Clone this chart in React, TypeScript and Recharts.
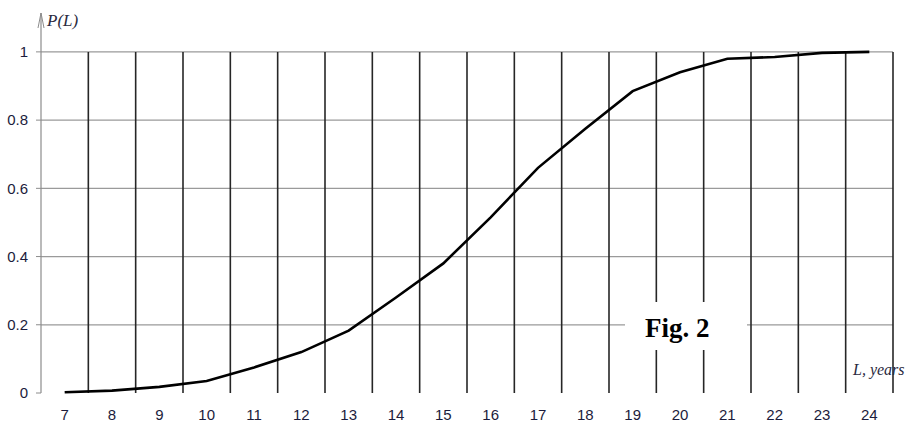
import React from 'react';
import {
  LineChart,
  Line,
  XAxis,
  YAxis,
  ReferenceLine,
} from 'recharts';

// L, years (category axis)
const years = [7, 8, 9, 10, 11, 12, 13, 14, 15, 16, 17, 18, 19, 20, 21, 22, 23, 24];
// P(L)
const probability = [
  0.002, 0.007, 0.018, 0.035, 0.075, 0.12, 0.183, 0.28, 0.38,
  0.515, 0.66, 0.775, 0.885, 0.94, 0.98, 0.985, 0.997, 1.0,
];
// category boundaries (vertical grid lines and tick marks)
const boundaries = [
  6.5, 7.5, 8.5, 9.5, 10.5, 11.5, 12.5, 13.5, 14.5, 15.5, 16.5,
  17.5, 18.5, 19.5, 20.5, 21.5, 22.5, 23.5, 24.5,
];
const yTicks = [0, 0.2, 0.4, 0.6, 0.8, 1];

const data = years.map((L, i) => ({ L, p: probability[i] }));

const tickFont = { fill: '#1c1c3c', fontSize: 15, fontFamily: 'Liberation Sans, Arial, sans-serif' };
const axisGray = '#8c8c8c';

export default function App() {
  return (
    <div style={{ position: 'absolute', left: 0, top: 0, width: 909, height: 424, background: '#fff' }}>
      <LineChart width={909} height={424} data={data} margin={{ top: 13, right: 16, bottom: 0, left: 0 }}>
        <defs>
          <marker id="arrowX" viewBox="0 0 16 10" refX="16" refY="5" markerWidth="16" markerHeight="10"
            markerUnits="userSpaceOnUse" orient="auto-start-reverse">
            <path d="M0,0.5 L16,5 L0,9.5" fill="none" stroke={axisGray} strokeWidth={1} />
          </marker>
          <marker id="arrowY" viewBox="0 0 15 8" refX="15" refY="4" markerWidth="15" markerHeight="8"
            markerUnits="userSpaceOnUse" orient="auto-start-reverse">
            <path d="M0,1 L15,4 L0,7" fill="none" stroke={axisGray} strokeWidth={1} />
          </marker>
        </defs>
        <XAxis
          xAxisId="marks"
          dataKey="L"
          type="number"
          domain={[6.5, 24.5]}
          ticks={boundaries}
          height={0}
          tick={false}
          tickSize={4}
          tickLine={{ stroke: axisGray }}
          axisLine={{ stroke: axisGray, strokeWidth: 1.2, markerEnd: 'url(#arrowX)' }}
        />
        <XAxis
          xAxisId="labels"
          dataKey="L"
          type="number"
          domain={[6.5, 24.5]}
          ticks={years}
          height={31}
          tickSize={0}
          tickMargin={16}
          tickLine={false}
          axisLine={false}
          tick={tickFont}
        />
        <YAxis
          type="number"
          domain={[0, 1.114]}
          ticks={yTicks}
          width={41}
          tickSize={5}
          tickMargin={8}
          tickLine={{ stroke: axisGray }}
          axisLine={{ stroke: axisGray, strokeWidth: 1.2, markerStart: 'url(#arrowY)' }}
          tick={tickFont}
        />
        {yTicks.slice(1).map((t) => (
          <ReferenceLine key={`h${t}`} xAxisId="marks" y={t} stroke="#9a9a9a" strokeWidth={1.3} />
        ))}
        {boundaries.slice(1).map((b) => (
          <ReferenceLine
            key={`v${b}`}
            xAxisId="marks"
            segment={[{ x: b, y: 0 }, { x: b, y: 1 }]}
            stroke="#262626"
            strokeWidth={1.6}
          />
        ))}
        <Line
          xAxisId="labels"
          type="linear"
          dataKey="p"
          stroke="#000"
          strokeWidth={2.6}
          dot={false}
          isAnimationActive={false}
        />
      </LineChart>
      <div style={{ position: 'absolute', left: 47, top: 12, fontFamily: 'Liberation Serif, serif', fontStyle: 'italic', fontSize: 17, lineHeight: '17px', color: '#2a2a40', whiteSpace: 'nowrap' }}>
        P(L)
      </div>
      <div style={{ position: 'absolute', left: 853, top: 362, fontFamily: 'Liberation Serif, serif', fontStyle: 'italic', fontSize: 16, lineHeight: '16px', color: '#2a2a40', whiteSpace: 'nowrap' }}>
        L, years
      </div>
      <div style={{ position: 'absolute', left: 625, top: 302, width: 122, height: 48, background: '#fff' }}>
        <div style={{ position: 'absolute', left: 20, top: 13, fontFamily: 'Liberation Serif, serif', fontWeight: 'bold', fontSize: 27, lineHeight: '27px', color: '#000', whiteSpace: 'nowrap' }}>
          Fig. 2
        </div>
      </div>
    </div>
  );
}
